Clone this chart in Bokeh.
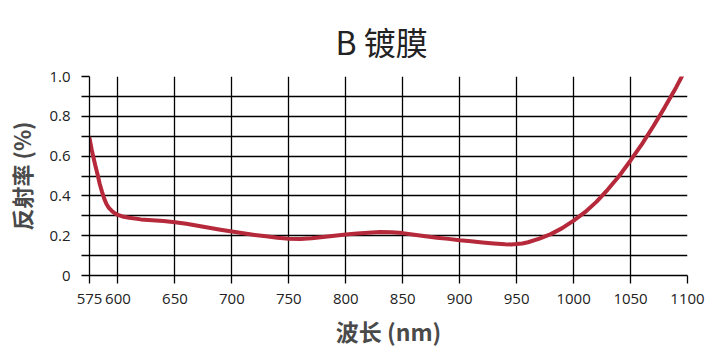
from bokeh.plotting import figure
from bokeh.models import FixedTicker, CustomJSTickFormatter
from bokeh.embed import file_html
from bokeh.resources import INLINE

# Wavelength (nm) and reflectance (%)
wavelength = [575, 577, 580, 582, 584, 586, 588, 590, 592, 595, 598, 600, 605, 610,
              620, 630, 640, 650, 660, 670, 680, 690, 700, 710, 720, 730, 740, 750,
              760, 770, 780, 790, 800, 810, 820, 830, 840, 850, 860, 870, 880, 890,
              900, 910, 920, 930, 940, 945, 950, 955, 960, 970, 980, 990, 1000, 1010,
              1020, 1030, 1040, 1050, 1060, 1070, 1080, 1090, 1095, 1100]
reflectance = [0.69, 0.63, 0.555, 0.51, 0.46, 0.42, 0.385, 0.358, 0.34, 0.322, 0.31, 0.305, 0.295, 0.29,
               0.282, 0.278, 0.274, 0.268, 0.26, 0.25, 0.24, 0.23, 0.221, 0.212, 0.204, 0.197, 0.19, 0.185,
               0.184, 0.187, 0.193, 0.2, 0.206, 0.211, 0.215, 0.218, 0.217, 0.213, 0.205, 0.197, 0.19, 0.184,
               0.177, 0.172, 0.166, 0.161, 0.157, 0.156, 0.158, 0.161, 0.167, 0.185, 0.208, 0.238, 0.276, 0.318,
               0.37, 0.432, 0.5, 0.578, 0.66, 0.75, 0.845, 0.945, 1.0, 1.06]

x_ticks = [575, 600, 650, 700, 750, 800, 850, 900, 950, 1000, 1050, 1100]
y_ticks = [0, 0.2, 0.4, 0.6, 0.8, 1.0]
y_minor = [0.1, 0.3, 0.5, 0.7, 0.9]

title_text = "B 镀膜"
x_label = "波长 (nm)"
y_label = "反射率 (%)"

p = figure(width=705, height=354, x_range=(575, 1100), y_range=(0, 1.0),
           output_backend="svg", toolbar_location=None,
           min_border_left=89, min_border_right=18, min_border_top=76, min_border_bottom=79)
p.outline_line_color = None
p.background_fill_color = "white"
p.border_fill_color = "white"

p.title.text = title_text
p.title.align = "left"
p.title.offset = 246
p.title.text_font = "Noto Sans CJK SC"
p.title.text_font_size = "32px"
p.title.text_font_style = "normal"
p.title.text_color = "#222222"
p.title.standoff = 25

p.line(wavelength, reflectance, line_color="#B5293A", line_width=4, line_join="round", line_cap="round")

tick_font = "Open Sans"
# x axis
p.xaxis.ticker = FixedTicker(ticks=x_ticks)
p.xaxis.axis_line_color = "black"
p.xaxis.axis_line_width = 1.3
p.xaxis.major_tick_line_color = "black"
p.xaxis.major_tick_line_width = 1.3
p.xaxis.major_tick_out = 8
p.xaxis.major_tick_in = 0
p.xaxis.minor_tick_line_color = None
p.xaxis.major_label_text_font = tick_font
p.xaxis.major_label_text_font_size = "15px"
p.xaxis.major_label_text_color = "#222222"
p.xaxis.major_label_standoff = 10
p.xaxis.axis_label = x_label
p.xaxis.axis_label_text_font = "Noto Sans CJK SC"
p.xaxis.axis_label_text_font_size = "23px"
p.xaxis.axis_label_text_font_style = "bold"
p.xaxis.axis_label_text_color = "#4a4a4a"
p.xaxis.axis_label_standoff = 7

# y axis
p.yaxis.ticker = FixedTicker(ticks=y_ticks, minor_ticks=y_minor)
p.yaxis.formatter = CustomJSTickFormatter(code="return tick < 1e-9 ? '0' : tick.toFixed(1);")
p.yaxis.axis_line_color = "black"
p.yaxis.axis_line_width = 1.3
p.yaxis.major_tick_line_color = "black"
p.yaxis.major_tick_line_width = 1.3
p.yaxis.major_tick_out = 8
p.yaxis.major_tick_in = 0
p.yaxis.minor_tick_line_color = "black"
p.yaxis.minor_tick_line_width = 1.3
p.yaxis.minor_tick_out = 8
p.yaxis.minor_tick_in = 0
p.yaxis.major_label_text_font = tick_font
p.yaxis.major_label_text_font_size = "15px"
p.yaxis.major_label_text_color = "#222222"
p.yaxis.major_label_standoff = 11
p.yaxis.axis_label = y_label
p.yaxis.axis_label_text_font = "Noto Sans CJK SC"
p.yaxis.axis_label_text_font_size = "22px"
p.yaxis.axis_label_text_font_style = "bold"
p.yaxis.axis_label_text_color = "#4a4a4a"
p.yaxis.axis_label_standoff = 9

# grid
p.xgrid.ticker = FixedTicker(ticks=x_ticks)
p.xgrid.grid_line_color = "black"
p.xgrid.grid_line_width = 1.3
p.xgrid.grid_line_alpha = 1.0
p.ygrid.ticker = FixedTicker(ticks=y_ticks, minor_ticks=y_minor)
p.ygrid.grid_line_color = "black"
p.ygrid.grid_line_width = 1.3
p.ygrid.minor_grid_line_color = "black"
p.ygrid.minor_grid_line_width = 1.3

open("out.html", "w").write(file_html(p, INLINE))
